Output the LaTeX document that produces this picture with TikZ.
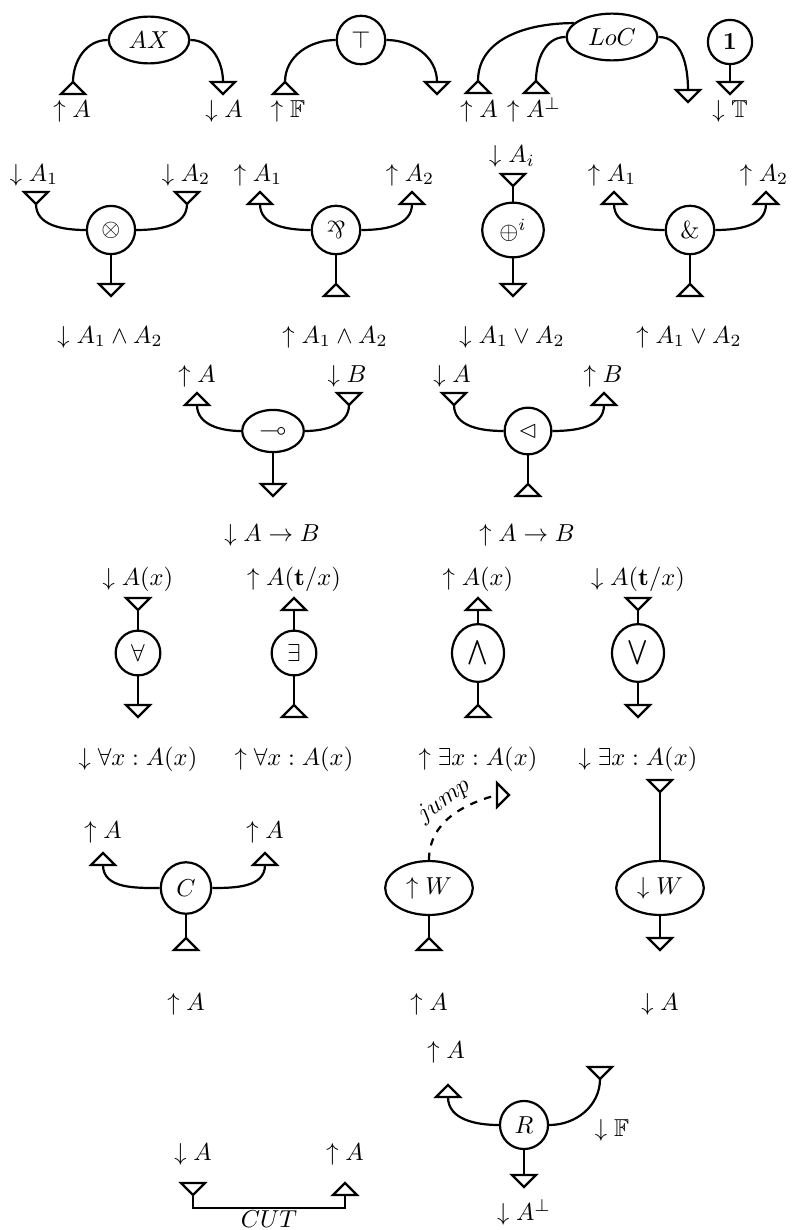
\documentclass[tikz,border=0pt]{standalone}
\usepackage{amssymb}
\usetikzlibrary{shapes.geometric,calc}
\tikzset{
  wire/.style={line width=0.9pt},
  port/.style={line width=0.9pt, line join=miter},
  lnk/.style={draw, line width=0.9pt, circle},
  lnke/.style={draw, line width=0.9pt, ellipse},
  lab/.style={anchor=base, inner sep=0pt},
}
\newcommand\dport[2]{%
  \path #2 coordinate (#1-t) ++(0,-12) coordinate (#1-b);
  \draw[port] (#1-t) ++(-12,0) -- ++(24,0) -- (#1-b) -- cycle;}
\newcommand\uport[2]{%
  \path #2 coordinate (#1-t) ++(0,-12) coordinate (#1-b);
  \draw[port] (#1-b) ++(-12,0) -- ++(24,0) -- (#1-t) -- cycle;}
\begin{document}
\begin{tikzpicture}[x=0.408pt,y=0.408pt]
\useasboundingbox (0,0) rectangle (792,-1230);
% ---------- Row 1
\node[lnke] (ax) at (149,-40) {$AX$};
\uport{ax1}{(73,-82)} \dport{ax2}{(223,-82)}
\draw[wire] (ax.west) to[out=180,in=90] (ax1-t);
\draw[wire] (ax.east) to[out=0,in=90] (ax2-t);
\node[lab] (lax1) at (72,-118) {$\uparrow A$};
\node[lab] (lax2) at (224,-118) {$\downarrow A$};

\node[lnk] (top) at (361,-40) {$\top$};
\uport{tp1}{(285,-82)} \dport{tp2}{(437,-82)}
\draw[wire] (top.west) to[out=180,in=90] (tp1-t);
\draw[wire] (top.east) to[out=0,in=90] (tp2-t);
\node[lab] (ltp1) at (288,-118) {$\uparrow \mathbb{F}$};

\node[lnke] (loc) at (612,-37) {$LoC$};
\uport{lc1}{(478,-81)} \uport{lc2}{(536,-81)} \dport{lc3}{(688,-90)}
\draw[wire] (loc.160) to[out=180,in=90] (lc1-t);
\draw[wire] (loc.west) to[out=180,in=90] (lc2-t);
\draw[wire] (loc.east) to[out=0,in=90] (lc3-t);
\node[lab] (llc1) at (479,-118) {$\uparrow A$};
\node[lab] (llc2) at (534,-118) {$\uparrow A^{\perp}$};

\node[lnk] (one) at (730,-42) {$\mathbf{1}$};
\dport{on}{(730,-82)}
\draw[wire] (one.south) -- (on-t);
\node[lab] (lon) at (730,-118) {$\downarrow \mathbb{T}$};

% ---------- Row 2
\node[lnk] (ten) at (111,-230) {$\otimes$};
\dport{t1}{(36,-192)} \dport{t2}{(187,-192)} \dport{t3}{(111,-284)}
\draw[wire] (ten.west) to[out=180,in=-90] (t1-b);
\draw[wire] (ten.east) to[out=0,in=-90] (t2-b);
\draw[wire] (ten.south) -- (t3-t);
\node[lab] (lt1) at (34,-181) {$\downarrow A_1$};
\node[lab] (lt2) at (186,-181) {$\downarrow A_2$};
\node[lab] (lt3) at (110,-343) {$\downarrow A_1\wedge A_2$};

\node[lnk] (par) at (336,-230) {\rotatebox[origin=c]{180}{$\&$}};
\uport{p1}{(260,-192)} \uport{p2}{(412,-192)} \uport{p3}{(336,-284)}
\draw[wire] (par.west) to[out=180,in=-90] (p1-b);
\draw[wire] (par.east) to[out=0,in=-90] (p2-b);
\draw[wire] (par.south) -- (p3-t);
\node[lab] (lp1) at (258,-181) {$\uparrow A_1$};
\node[lab] (lp2) at (410,-181) {$\uparrow A_2$};
\node[lab] (lp3) at (335,-343) {$\uparrow A_1\wedge A_2$};

\node[lnke] (plus) at (513,-230) {$\oplus^i$};
\dport{s1}{(513,-174)} \dport{s2}{(513,-284)}
\draw[wire] (s1-b) -- (plus.north);
\draw[wire] (plus.south) -- (s2-t);
\node[lab] (ls1) at (512,-163) {$\downarrow A_i$};
\node[lab] (ls2) at (512,-343) {$\downarrow A_1\vee A_2$};

\node[lnk] (with) at (690,-230) {$\&$};
\uport{w1}{(614,-192)} \uport{w2}{(766,-192)} \uport{w3}{(690,-284)}
\draw[wire] (with.west) to[out=180,in=-90] (w1-b);
\draw[wire] (with.east) to[out=0,in=-90] (w2-b);
\draw[wire] (with.south) -- (w3-t);
\node[lab] (lw1) at (612,-181) {$\uparrow A_1$};
\node[lab] (lw2) at (764,-181) {$\uparrow A_2$};
\node[lab] (lw3) at (689,-343) {$\uparrow A_1\vee A_2$};

% ---------- Row 3
\node[lnke] (lol) at (273,-431) {$\multimap$};
\uport{l1}{(197,-393)} \dport{l2}{(349,-393)} \dport{l3}{(273,-484)}
\draw[wire] (lol.west) to[out=180,in=-90] (l1-b);
\draw[wire] (lol.east) to[out=0,in=-90] (l2-b);
\draw[wire] (lol.south) -- (l3-t);
\node[lab] (ll1) at (197,-382) {$\uparrow A$};
\node[lab] (ll2) at (347,-382) {$\downarrow B$};
\node[lab] (ll3) at (272,-541) {$\downarrow A\rightarrow B$};

\node[lnk] (lhd) at (528,-431) {$\lhd$};
\dport{r1}{(454,-393)} \uport{r2}{(604,-393)} \uport{r3}{(528,-484)}
\draw[wire] (lhd.west) to[out=180,in=-90] (r1-b);
\draw[wire] (lhd.east) to[out=0,in=-90] (r2-b);
\draw[wire] (lhd.south) -- (r3-t);
\node[lab] (lr1) at (452,-382) {$\downarrow A$};
\node[lab] (lr2) at (603,-382) {$\uparrow B$};
\node[lab] (lr3) at (527,-541) {$\uparrow A\rightarrow B$};

% ---------- Row 4
\node[lnk] (fa) at (138,-653) {$\forall$};
\dport{f1}{(138,-598)} \dport{f2}{(138,-705)}
\draw[wire] (f1-b) -- (fa.north);
\draw[wire] (fa.south) -- (f2-t);
\node[lab] (lf1) at (138,-585) {$\downarrow A(x)$};
\node[lab] (lf2) at (138,-765) {$\downarrow \forall x : A(x)$};

\node[lnk] (ex) at (294,-653) {$\exists$};
\uport{e1}{(294,-598)} \uport{e2}{(294,-705)}
\draw[wire] (e1-b) -- (ex.north);
\draw[wire] (ex.south) -- (e2-t);
\node[lab] (le1) at (294,-585) {$\uparrow A(\mathbf{t}/x)$};
\node[lab] (le2) at (294,-765) {$\uparrow \forall x : A(x)$};

\node[lnke] (bw) at (478,-653) {$\bigwedge$};
\uport{b1}{(478,-598)} \uport{b2}{(478,-705)}
\draw[wire] (b1-b) -- (bw.north);
\draw[wire] (bw.south) -- (b2-t);
\node[lab] (lb1) at (478,-585) {$\uparrow A(x)$};
\node[lab] (lb2) at (478,-765) {$\uparrow \exists x : A(x)$};

\node[lnke] (bv) at (638,-653) {$\bigvee$};
\dport{v1}{(638,-598)} \dport{v2}{(638,-705)}
\draw[wire] (v1-b) -- (bv.north);
\draw[wire] (bv.south) -- (v2-t);
\node[lab] (lv1) at (638,-585) {$\downarrow A(\mathbf{t}/x)$};
\node[lab] (lv2) at (638,-765) {$\downarrow \exists x : A(x)$};

% ---------- Row 5
\node[lnke, minimum height=21pt] (c) at (186,-888) {$C$};
\uport{c1}{(103,-853)} \uport{c2}{(265,-853)} \uport{c3}{(186,-938)}
\draw[wire] (c.west) to[out=180,in=-90] (c1-b);
\draw[wire] (c.east) to[out=0,in=-90] (c2-b);
\draw[wire] (c.south) -- (c3-t);
\node[lab] (lc1) at (103,-838) {$\uparrow A$};
\node[lab] (lc2) at (265,-838) {$\uparrow A$};
\node[lab] (lc3) at (186,-1010) {$\uparrow A$};

\node[lnke] (uw) at (429,-888) {$\uparrow W$};
\uport{u1}{(429,-938)}
\draw[wire] (uw.south) -- (u1-t);
\node[lab] (lu1) at (429,-1010) {$\uparrow A$};
\coordinate (jt) at (497,-795);
\draw[port] (jt) ++(0,12) -- ++(0,-24) -- ++(12,12) -- cycle;
\draw[wire, dashed] (uw.north) to[out=90,in=195]
  node[pos=0.55, sloped, above, inner sep=2pt] {$jump$} (jt);

\node[lnke] (dw) at (660,-888) {$\downarrow W$};
\dport{d1}{(660,-780)} \dport{d2}{(660,-938)}
\draw[wire] (d1-b) -- (dw.north);
\draw[wire] (dw.south) -- (d2-t);
\node[lab] (ld2) at (660,-1010) {$\downarrow A$};

% ---------- Row 6
\node[lnk] (rr) at (524,-1125) {$R$};
\uport{q1}{(448,-1085)} \dport{q2}{(600,-1067)} \dport{q3}{(524,-1175)}
\draw[wire] (rr.west) to[out=180,in=-90] (q1-b);
\draw[wire] (rr.east) to[out=0,in=-90] (q2-b);
\draw[wire] (rr.south) -- (q3-t);
\node[lab] (lq1) at (446,-1058) {$\uparrow A$};
\node[lab] (lq2) at (612,-1136) {$\downarrow \mathbb{F}$};
\node[lab] (lq3) at (524,-1220) {$\downarrow A^{\perp}$};

\dport{k1}{(193,-1183)} \uport{k2}{(345,-1183)}
\draw[wire] (k1-b) -- ++(0,-13) -| (k2-b);
\node[lab] (lk1) at (193,-1160) {$\downarrow A$};
\node[lab] (lk2) at (345,-1160) {$\uparrow A$};
\node[lab] (lcut) at (269,-1227) {$CUT$};
\end{tikzpicture}
\end{document}
